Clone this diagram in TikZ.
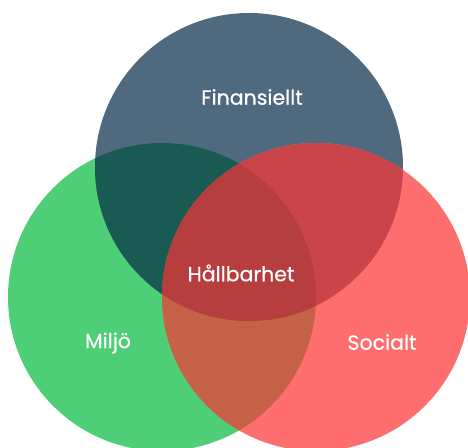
\documentclass[tikz,border=0pt]{standalone}
\usepackage{fontspec}
\setmainfont{Poppins}[FakeBold=0.5]
\definecolor{cblue}{HTML}{4F6A7E}
\definecolor{cgreen}{HTML}{4FCE78}
\definecolor{cred}{HTML}{FF6E6E}
\definecolor{cgb}{HTML}{195B52}
\definecolor{cbr}{HTML}{C94549}
\definecolor{cgr}{HTML}{C56146}
\definecolor{cmid}{HTML}{B63E3E}
\tikzset{lbl/.style={text=white,font=\fontsize{20.5}{23}\selectfont}}
\begin{document}
\begin{tikzpicture}[x=1pt,y=-1pt]
\useasboundingbox (0,0) rectangle (468,447);
\clip (0,0) rectangle (468,447);
\def\R{154}
\coordinate (B) at (249,167);
\coordinate (G) at (162,297);
\coordinate (S) at (316,297);
\fill[cgreen] (G) circle (\R);
\fill[cblue] (B) circle (\R);
\fill[cred] (S) circle (\R);
\begin{scope}
\clip (G) circle (\R);
\fill[cgb] (B) circle (\R);
\fill[cgr] (S) circle (\R);
\end{scope}
\begin{scope}
\clip (B) circle (\R);
\fill[cbr] (S) circle (\R);
\clip (S) circle (\R);
\fill[cmid] (G) circle (\R);
\end{scope}
\node[lbl] (fin) at (252,97) {Finansiellt};
\node[lbl] (hal) at (241,273) {Hållbarhet};
\node[lbl] (mil) at (108,343) {Miljö};
\node[lbl] (soc) at (382,342) {Socialt};
\end{tikzpicture}
\end{document}
